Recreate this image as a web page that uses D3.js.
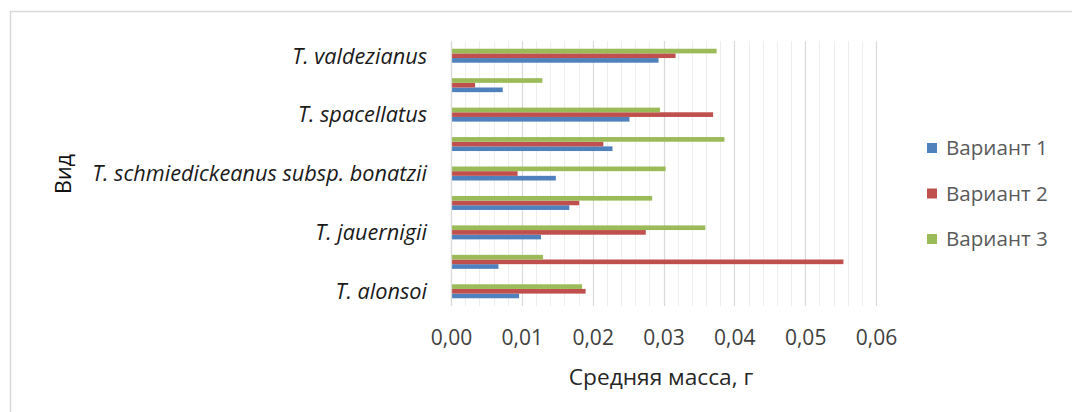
<!DOCTYPE html>
<html>
<head>
<meta charset="utf-8">
<script src="https://cdn.jsdelivr.net/npm/d3@7"></script>
<style>
  html, body { margin: 0; padding: 0; background: #fff; }
  svg { display: block; }
</style>
</head>
<body>
<svg id="chart" width="1072" height="412"></svg>
<script>
// Categories from bottom to top (Excel order); only every other label is shown, as in the original
const categories = [
  "T. alonsoi",
  "T. gielsdorfianus",
  "T. jauernigii",
  "T. lophophoroides",
  "T. schmiedickeanus subsp. bonatzii",
  "T. schmiedickeanus subsp. klinkerianus",
  "T. spacellatus",
  "T. subterraneus",
  "T. valdezianus"
];
const shownCategories = ["T. alonsoi", "T. jauernigii", "T. schmiedickeanus subsp. bonatzii", "T. spacellatus", "T. valdezianus"];
const seriesNames = ["Вариант 1", "Вариант 2", "Вариант 3"];
const variant1 = [0.0096, 0.0067, 0.0127, 0.0167, 0.0148, 0.0228, 0.0252, 0.0073, 0.0293];
const variant2 = [0.0190, 0.0554, 0.0275, 0.0181, 0.0094, 0.0215, 0.0370, 0.0034, 0.0317];
const variant3 = [0.0185, 0.0130, 0.0359, 0.0284, 0.0303, 0.0386, 0.0295, 0.0129, 0.0375];
const seriesColors = ["#4f81bd", "#c0504d", "#9bbb59"];
const xTicks = [0, 0.01, 0.02, 0.03, 0.04, 0.05, 0.06];
const xTitle = "Средняя масса, г";
const yTitle = "Вид";

const seriesValues = [variant1, variant2, variant3];
const svg = d3.select("#chart");

// chart border
svg.append("rect").attr("x", 10.5).attr("y", 11.5).attr("width", 1080).attr("height", 420)
  .attr("fill", "#fff").attr("stroke", "#d9d9d9").attr("stroke-width", 1.5);

const plot = { left: 451, right: 876, top: 41, bottom: 306 };

const x = d3.scaleLinear().domain([0, 0.06]).range([plot.left, plot.right]);
const y = d3.scaleBand().domain(categories.slice().reverse()).range([plot.top, plot.bottom]).paddingInner(0).paddingOuter(0);
const groupFrac = 0.475;
const sub = d3.scaleBand().domain(seriesNames.slice().reverse())
  .range([(1 - groupFrac) / 2 * y.bandwidth(), (1 + groupFrac) / 2 * y.bandwidth()]);

// gridlines: minor every 0.002, major every 0.01
const minor = d3.range(0, 0.0601, 0.002);
svg.append("g").selectAll("line").data(minor).join("line")
  .attr("x1", d => Math.round(x(d)) + 0.5).attr("x2", d => Math.round(x(d)) + 0.5)
  .attr("y1", plot.top).attr("y2", plot.bottom)
  .attr("stroke", "#eeeeee").attr("stroke-width", 1);
svg.append("g").selectAll("line").data(xTicks).join("line")
  .attr("x1", d => Math.round(x(d)) + 0.5).attr("x2", d => Math.round(x(d)) + 0.5)
  .attr("y1", plot.top).attr("y2", plot.bottom)
  .attr("stroke", "#d9d9d9").attr("stroke-width", 1.2);

// bars
const barData = [];
categories.forEach((c, i) => seriesNames.forEach((s, j) => barData.push({ c, s, v: seriesValues[j][i], color: seriesColors[j] })));
svg.append("g").selectAll("rect").data(barData).join("rect")
  .attr("x", x(0) + 1)
  .attr("y", d => y(d.c) + sub(d.s))
  .attr("width", d => x(d.v) - x(0) - 1)
  .attr("height", sub.bandwidth())
  .attr("fill", d => d.color);

// x axis labels
const xAxis = d3.axisBottom(x).tickValues(xTicks).tickSize(0).tickPadding(0)
  .tickFormat(d => d3.format(".2f")(d).replace(".", ","));
const gx = svg.append("g").attr("transform", `translate(0, ${plot.bottom + 24})`).call(xAxis);
gx.select(".domain").remove();
gx.selectAll("text").attr("font-family", "'Open Sans', sans-serif").attr("font-size", 21).attr("fill", "#404040")
  .attr("dy", "0.71em");

// y axis labels
const yAxis = d3.axisLeft(y).tickValues(shownCategories).tickSize(0).tickPadding(24);
const gy = svg.append("g").attr("transform", `translate(${plot.left}, 0)`).call(yAxis);
gy.select(".domain").remove();
gy.selectAll("text").attr("font-family", "'Open Sans', sans-serif").attr("font-size", 21.7)
  .attr("font-style", "italic").attr("fill", "#1a1a1a").attr("dy", "0.36em");

// vertical axis line
svg.append("line").attr("x1", plot.left + 0.5).attr("x2", plot.left + 0.5)
  .attr("y1", plot.top).attr("y2", plot.bottom).attr("stroke", "#d9d9d9").attr("stroke-width", 1.2);

// axis titles
svg.append("text").attr("x", 661).attr("y", 385).attr("text-anchor", "middle")
  .attr("font-family", "'Open Sans', sans-serif").attr("font-size", 22.7).attr("fill", "#262626").text(xTitle);
svg.append("text").attr("transform", "translate(71, 174) rotate(-90)").attr("text-anchor", "middle")
  .attr("font-family", "'Open Sans', sans-serif").attr("font-size", 21.5).attr("fill", "#111").text(yTitle);

// legend
const legend = svg.append("g").selectAll("g").data(seriesNames).join("g")
  .attr("transform", (d, i) => `translate(927, ${148 + i * 45.5})`);
legend.append("rect").attr("x", 0).attr("y", -5).attr("width", 10).attr("height", 10)
  .attr("fill", (d, i) => seriesColors[i]);
legend.append("text").attr("x", 19).attr("y", 0).attr("dy", "0.36em")
  .attr("font-family", "'Open Sans', sans-serif").attr("font-size", 20.6).attr("fill", "#595959").text(d => d);
</script>
</body>
</html>
